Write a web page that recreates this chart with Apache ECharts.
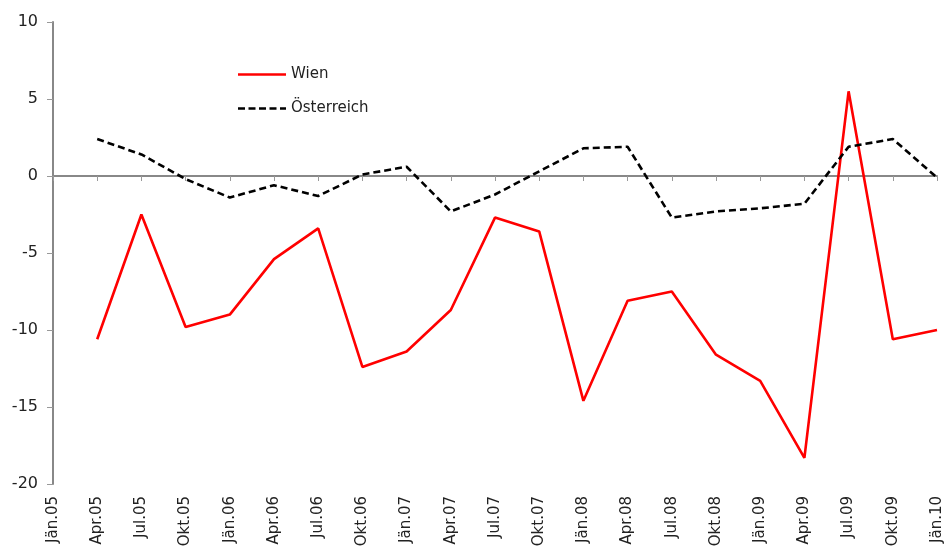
<!DOCTYPE html>
<html>
<head>
<meta charset="utf-8">
<script src="https://cdn.jsdelivr.net/npm/echarts@6/dist/echarts.min.js"></script>
<style>
  html, body { margin: 0; padding: 0; background: #fff; }
  #main { width: 946px; height: 558px; }
</style>
</head>
<body>
<div id="main"></div>
<script>
// Quartale
var quartale = ['Jän.05', 'Apr.05', 'Jul.05', 'Okt.05', 'Jän.06', 'Apr.06', 'Jul.06', 'Okt.06',
  'Jän.07', 'Apr.07', 'Jul.07', 'Okt.07', 'Jän.08', 'Apr.08', 'Jul.08', 'Okt.08',
  'Jän.09', 'Apr.09', 'Jul.09', 'Okt.09', 'Jän.10'];

// Wien (erster Wert fehlt)
var wien = [null, -10.6, -2.5, -9.8, -9.0, -5.4, -3.4, -12.4, -11.4, -8.7, -2.7, -3.6,
  -14.6, -8.1, -7.5, -11.6, -13.3, -18.3, 5.5, -10.6, -10.0];

// Österreich
var oesterreich = [null, 2.4, 1.4, -0.2, -1.4, -0.6, -1.3, 0.1, 0.6, -2.3, -1.2, 0.3,
  1.8, 1.9, -2.7, -2.3, -2.1, -1.8, 1.9, 2.4, -0.1];

var schrift = '"DejaVu Sans", sans-serif';

var myChart = echarts.init(document.getElementById('main'));

var option = {
  animation: false,
  backgroundColor: '#fff',
  textStyle: { fontFamily: schrift },
  grid: { left: 53, right: 9, top: 22, bottom: 74 },
  legend: {
    left: 233,
    top: 62,
    orient: 'vertical',
    itemGap: 19,
    itemWidth: 48,
    itemHeight: 16,
    textStyle: { fontSize: 15, color: '#222', fontFamily: schrift },
    data: [
      { name: 'Wien', icon: 'path://M0,0L48,0L48,2.6L0,2.6Z' },
      { name: 'Österreich', icon: 'path://M0,0L7,0L7,2.6L0,2.6Z M10.5,0L17.5,0L17.5,2.6L10.5,2.6Z M21,0L28,0L28,2.6L21,2.6Z M31.5,0L38.5,0L38.5,2.6L31.5,2.6Z M42,0L48,0L48,2.6L42,2.6Z' }
    ]
  },
  xAxis: [
    {
      // Beschriftung unten
      type: 'category',
      data: quartale,
      boundaryGap: false,
      position: 'bottom',
      axisLine: { show: false, onZero: false },
      axisTick: { show: false },
      axisLabel: {
        rotate: 90,
        interval: 0,
        fontSize: 15,
        color: '#222',
        margin: 12,
        fontFamily: schrift
      },
      splitLine: { show: false }
    },
    {
      // Nulllinie mit Teilstrichen
      type: 'category',
      data: quartale,
      boundaryGap: false,
      position: 'bottom',
      axisLine: { show: true, onZero: true, lineStyle: { color: '#888', width: 2 } },
      axisTick: { show: true, interval: 0, length: 5, inside: false, lineStyle: { color: '#999', width: 1 } },
      axisLabel: { show: false },
      splitLine: { show: false }
    }
  ],
  yAxis: {
    type: 'value',
    min: -20,
    max: 10,
    interval: 5,
    axisLine: { show: true, lineStyle: { color: '#888', width: 2 } },
    axisTick: { show: true, length: 6, lineStyle: { color: '#999', width: 1 } },
    axisLabel: { fontSize: 16, color: '#222', margin: 15, fontFamily: schrift },
    splitLine: { show: false }
  },
  series: [
    {
      name: 'Wien',
      type: 'line',
      data: wien,
      xAxisIndex: 0,
      symbol: 'none',
      color: '#ff0000',
      lineStyle: { color: '#ff0000', width: 2.6 }
    },
    {
      name: 'Österreich',
      type: 'line',
      data: oesterreich,
      xAxisIndex: 0,
      symbol: 'none',
      color: '#000',
      lineStyle: { color: '#000', width: 2.6, type: [7, 4] }
    }
  ]
};

myChart.setOption(option);
</script>
</body>
</html>
